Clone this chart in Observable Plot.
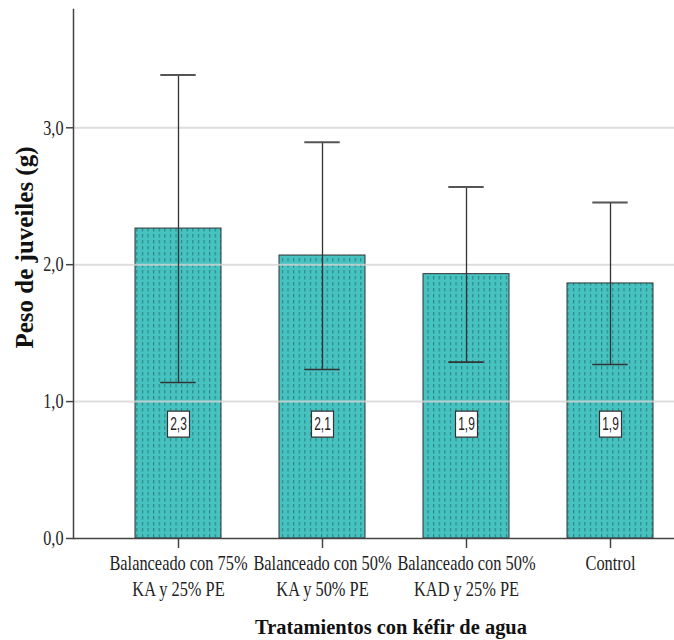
<!DOCTYPE html>
<html>
<head>
<meta charset="utf-8">
<script src="https://cdn.jsdelivr.net/npm/d3@7"></script>
<script src="https://cdn.jsdelivr.net/npm/@observablehq/plot@0.6"></script>
<style>
  html, body { margin: 0; padding: 0; background: white; }
</style>
</head>
<body>
<div id="chart"></div>
<script>
const categories = [
  "Balanceado con 75% KA y 25% PE",
  "Balanceado con 50% KA y 50% PE",
  "Balanceado con 50% KAD y 25% PE",
  "Control"
];
const tickLabels = [
  "Balanceado con 75%\nKA y 25% PE",
  "Balanceado con 50%\nKA y 50% PE",
  "Balanceado con 50%\nKAD y 25% PE",
  "Control"
];
const means = [2.264, 2.067, 1.931, 1.863];
const upper = [3.386, 2.895, 2.568, 2.454];
const lower = [1.140, 1.234, 1.288, 1.271];
const yTicks = [0, 1, 2, 3];
const yTitle = "Peso de juveiles (g)";
const xTitle = "Tratamientos con kéfir de agua";

const data = categories.map((c, i) => ({
  cat: c, mean: means[i], hi: upper[i], lo: lower[i],
  label: means[i].toFixed(1).replace(".", ",")
}));
const fmt = d => d.toFixed(1).replace(".", ",");
const LABEL_Y = 0.835;

const boxSymbol = { draw(ctx) { ctx.rect(-11, -13, 22, 26); } };

const chart = Plot.plot({
  width: 674,
  height: 640,
  marginLeft: 73,
  marginRight: 0,
  marginTop: 9,
  marginBottom: 102,
  style: { fontFamily: "Liberation Serif", background: "white", color: "#222" },
  x: { domain: categories, paddingInner: 0.4, paddingOuter: 0.28, align: 0.755 },
  y: { domain: [0, 3.864] },
  marks: [
    Plot.barY(data, { x: "cat", y: "mean", fill: "url(#tealDots)", stroke: "#333", strokeWidth: 1 }),
    Plot.ruleY(yTicks.filter(d => d > 0), { stroke: "#d4d4d4", strokeWidth: 2, strokeOpacity: 0.8 }),
    Plot.ruleX(data, { x: "cat", y1: "lo", y2: "hi", stroke: "#333", strokeWidth: 1.3 }),
    Plot.tickY(data, { x: "cat", y: "hi", stroke: "#555", strokeWidth: 2, insetLeft: 25.3, insetRight: 25.3 }),
    Plot.tickY(data, { x: "cat", y: "lo", stroke: "#333", strokeWidth: 1.6, insetLeft: 25.3, insetRight: 25.3 }),
    Plot.dot(data, { x: "cat", y: () => LABEL_Y, symbol: boxSymbol, fill: "white", stroke: "#333", strokeWidth: 1.2 }),
    Plot.text(data, { x: "cat", y: () => LABEL_Y, text: "label", fontSize: 19, fill: "#222",
      fontFamily: "Liberation Sans" }),
    Plot.ruleY([0], { stroke: "#444", strokeWidth: 1.5 }),
    Plot.frame({ anchor: "left", stroke: "#444", strokeWidth: 1.5 }),
    Plot.axisY({ ticks: yTicks, tickFormat: fmt, tickSize: 7, tickPadding: 3, fontSize: 21,
      label: null, stroke: "#444", strokeWidth: 1.5 }),
    Plot.axisX({ tickSize: 10, tickPadding: 3, fontSize: 22, lineHeight: 1.18, label: null,
      stroke: "#444", strokeWidth: 1.5,
      tickFormat: d => tickLabels[categories.indexOf(d)] }),
    Plot.text([yTitle], { frameAnchor: "left", rotate: -90, dx: -49, dy: -26.5, fontSize: 25,
      textAnchor: "middle", lineAnchor: "middle", fontWeight: "bold", fill: "#111" }),
    Plot.text([xTitle], { frameAnchor: "bottom", dx: 17, dy: 88, fontSize: 22,
      textAnchor: "middle", lineAnchor: "middle", fontWeight: "bold", fill: "#111" })
  ]
});

// pattern definition for the dotted teal fill
const svgNS = "http://www.w3.org/2000/svg";
const defs = document.createElementNS(svgNS, "defs");
defs.innerHTML = `<pattern id="tealDots" patternUnits="userSpaceOnUse" width="5.6" height="6">
  <rect width="5.6" height="6" fill="#46c2c0"></rect>
  <rect x="2" y="0" width="1" height="3.5" fill="#287c7a"></rect>
</pattern>`;
chart.insertBefore(defs, chart.firstChild);

function squeezeEls(els, sx) {
  els.forEach(el => {
    const t = el.getAttribute("transform");
    if (t) el.setAttribute("transform", t + ` scale(${sx},1)`);
    else {
      const x = +el.getAttribute("x") || 0;
      el.removeAttribute("x");
      el.setAttribute("transform", `translate(${x},0) scale(${sx},1)`);
    }
  });
}
squeezeEls(chart.querySelectorAll('g[aria-label="y-axis tick label"] text'), 0.77);
squeezeEls(chart.querySelectorAll('g[aria-label="x-axis tick label"] text'), 0.745);
const textGroups = chart.querySelectorAll('g[aria-label="text"]');
if (textGroups[0]) squeezeEls(textGroups[0].querySelectorAll("text"), 0.63);
if (textGroups[2]) squeezeEls(textGroups[2].querySelectorAll("text"), 0.93);

document.getElementById("chart").appendChild(chart);
</script>
</body>
</html>
